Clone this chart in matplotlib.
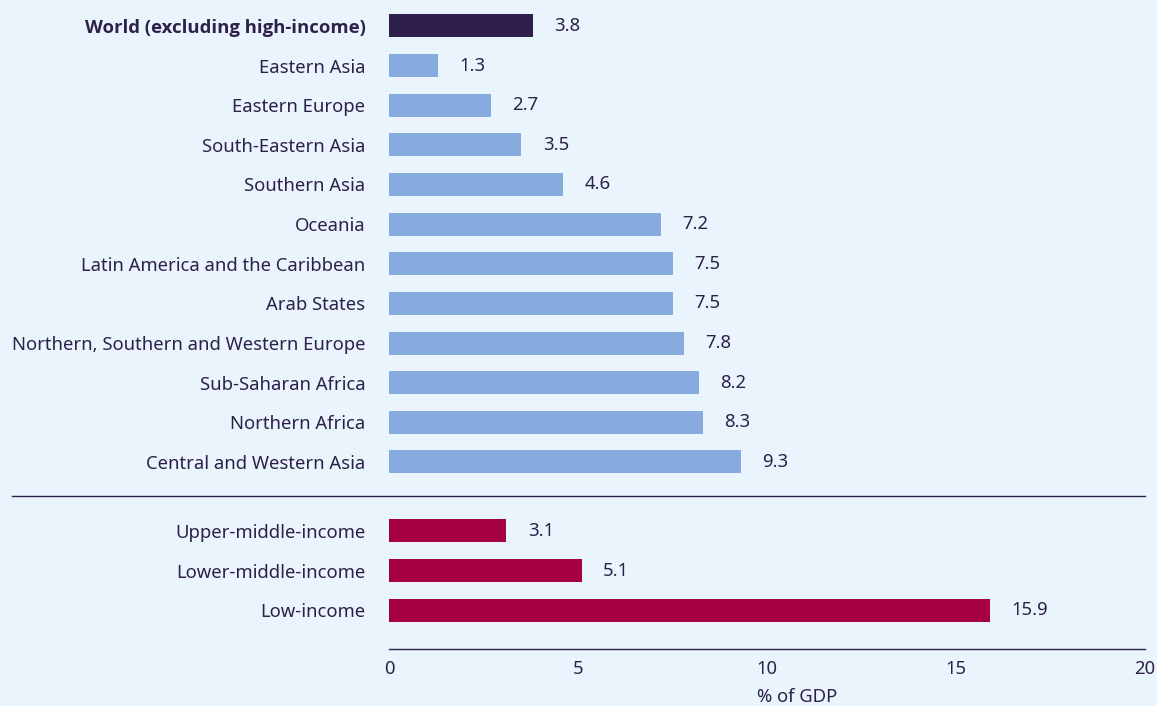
import matplotlib.pyplot as plt
from matplotlib import font_manager

# ----------------------------
# Data
# ----------------------------
regions = [
    "World (excluding high-income)",
    "Eastern Asia",
    "Eastern Europe",
    "South-Eastern Asia",
    "Southern Asia",
    "Oceania",
    "Latin America and the Caribbean",
    "Arab States",
    "Northern, Southern and Western Europe",
    "Sub-Saharan Africa",
    "Northern Africa",
    "Central and Western Asia",
]
region_values = [3.8, 1.3, 2.7, 3.5, 4.6, 7.2, 7.5, 7.5, 7.8, 8.2, 8.3, 9.3]

income_groups = ["Upper-middle-income", "Lower-middle-income", "Low-income"]
income_values = [3.1, 5.1, 15.9]

xticks = [0, 5, 10, 15, 20]

# ----------------------------
# Style
# ----------------------------
BG = "#eaf4fd"
TEXT = "#2d2149"
DARK = "#2e1f4b"
LIGHT = "#87abdf"
MAGENTA = "#a50044"

plt.rcParams["font.family"] = ["Noto Sans", "DejaVu Sans"]
FS = 13.3

# check which family has a bold face for the highlighted label
bold_family = "Noto Sans"
noto_weights = {f.weight for f in font_manager.fontManager.ttflist if f.name == "Noto Sans"}
if not any(w in ("bold", 700) for w in noto_weights):
    bold_family = "Open Sans"

fig = plt.figure(figsize=(11.57, 7.06), dpi=100, facecolor=BG)
ax = fig.add_axes([389 / 1157, 1 - 649 / 706, (1145 - 389) / 1157, 649 / 706])
ax.set_facecolor(BG)

# row positions: regions, then a gap, then income groups
gap = 1.74
pos_regions = list(range(len(regions)))
pos_income = [len(regions) - 1 + gap + i for i in range(len(income_groups))]
sep_y = len(regions) - 1 + 0.86

colors = [DARK] + [LIGHT] * (len(regions) - 1)
ax.barh(pos_regions, region_values, height=0.58, color=colors)
ax.barh(pos_income, income_values, height=0.58, color=MAGENTA)

for y, v in zip(pos_regions + pos_income, region_values + income_values):
    ax.annotate(f"{v:.1f}", (v, y), xytext=(15.5, 0), textcoords="offset points",
                ha="left", va="center", fontsize=FS, color=TEXT)

ax.set_yticks(pos_regions + pos_income)
labels = ax.set_yticklabels(regions + income_groups, fontsize=FS, color=TEXT)
labels[0].set_fontweight("bold")
labels[0].set_family(bold_family)
ax.tick_params(axis="y", length=0, pad=17)

ax.set_xlim(0, 20)
ax.set_xticks(xticks)
ax.set_xticklabels([str(t) for t in xticks], fontsize=FS, color=TEXT)
ax.tick_params(axis="x", length=0, pad=8)

ax.set_ylim(pos_income[-1] + 0.98, -0.655)

for s in ["top", "right", "left"]:
    ax.spines[s].set_visible(False)
ax.spines["bottom"].set_color(TEXT)
ax.spines["bottom"].set_linewidth(1.0)

# separator line between regions and income groups
ax.axhline(sep_y, xmin=-(389 - 12) / 756, xmax=1, color=TEXT, lw=1.0, clip_on=False)

fig.text(797 / 1157, 1 - 697 / 706, "% of GDP", ha="center", va="center",
         fontsize=FS, color=TEXT)

fig.savefig("out.png", dpi=100, facecolor=BG)
